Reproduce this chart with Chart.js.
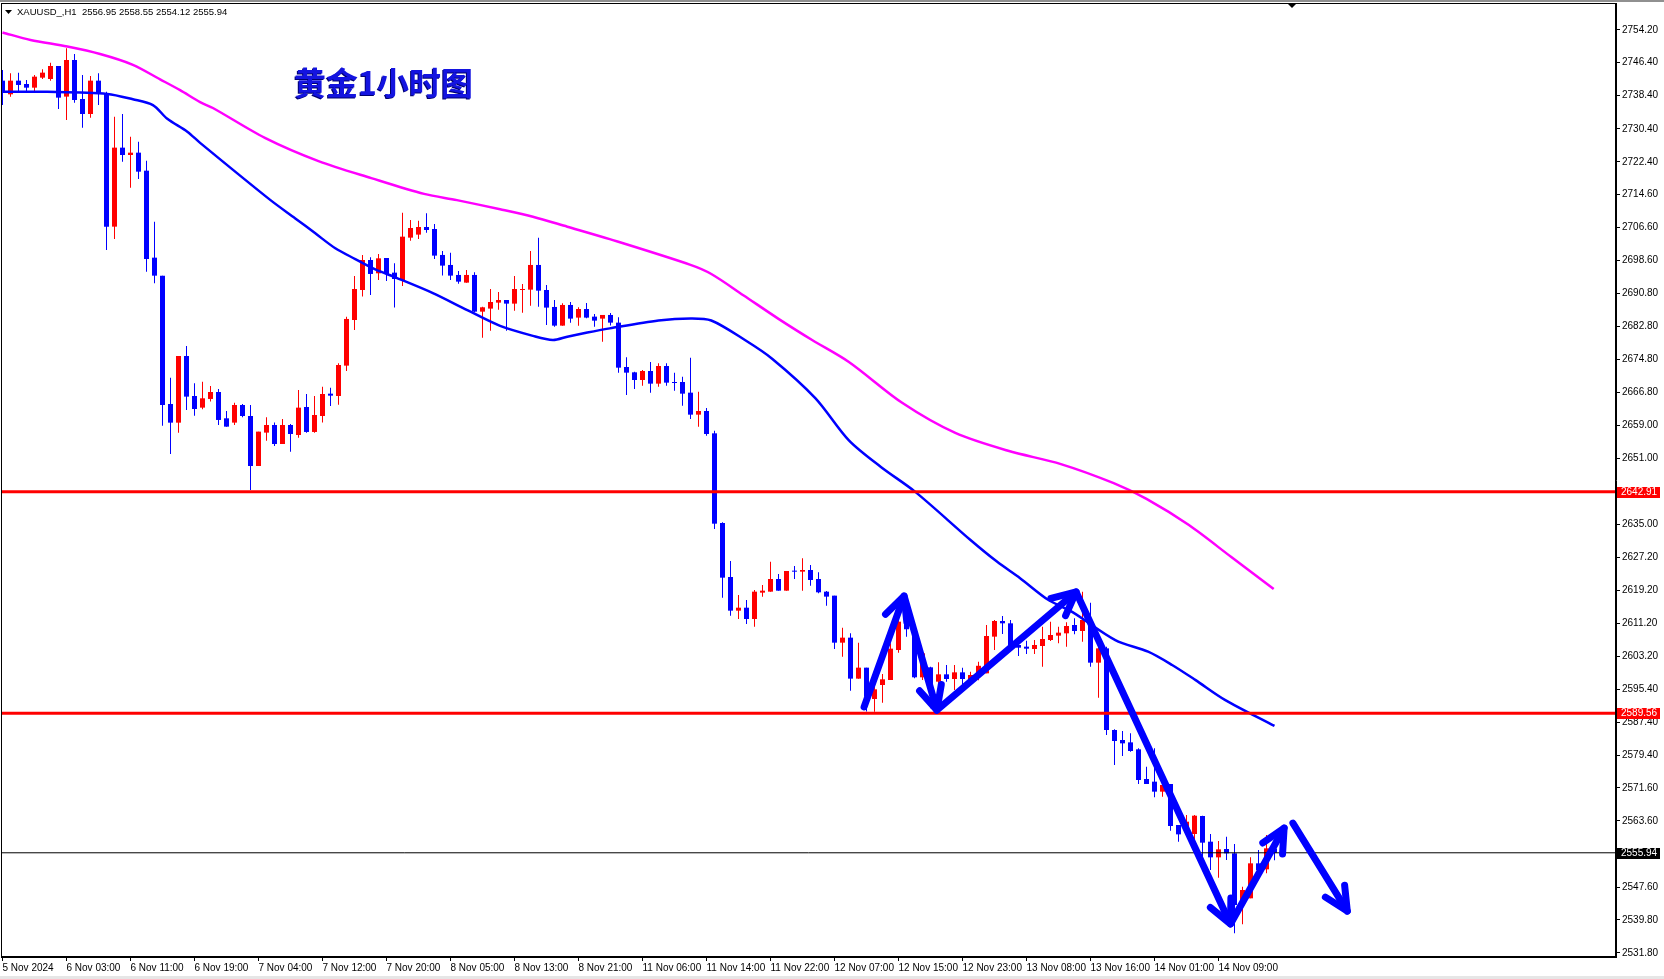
<!DOCTYPE html>
<html>
<head>
<meta charset="utf-8">
<script src="https://cdn.jsdelivr.net/npm/chart.js@4.4.1/dist/chart.umd.min.js"></script>
<style>
  html, body { margin: 0; padding: 0; background: #fff; }
  canvas { display: block; }
</style>
</head>
<body>
<canvas id="chart" width="1664" height="979"></canvas>
<script>
// XAUUSD H1 candles, bar 0 = 5 Nov 19:00
const open = [2741.99,2738.70,2741.99,2741.19,2740.30,2742.71,2742.39,2745.52,2738.14,2746.97,
  2737.57,2733.96,2741.99,2738.94,2706.81,2725.85,2724.08,2724.64,2720.30,2699.34,
  2695.00,2664.08,2659.58,2675.65,2666.01,2663.20,2665.29,2666.97,2660.63,2659.59,
  2663.84,2661.19,2649.14,2657.18,2659.02,2654.44,2659.02,2656.61,2663.36,2657.34,
  2661.19,2666.57,2666.01,2673.32,2684.32,2691.55,2698.78,2695.57,2699.26,2695.73,
  2693.96,2704.16,2704.89,2706.73,2706.25,2699.99,2697.58,2695.17,2693.32,2695.17,
  2686.33,2687.06,2688.50,2689.14,2688.26,2691.55,2691.63,2697.58,2691.55,2687.46,
  2682.96,2687.94,2684.89,2686.97,2685.13,2684.65,2685.53,2683.68,2672.99,2671.71,
  2669.86,2672.03,2668.98,2673.23,2669.38,2669.38,2666.81,2661.51,2662.39,2657.01,
  2635.40,2622.39,2614.28,2615.00,2612.27,2618.62,2618.86,2621.91,2619.10,2623.92,
  2623.68,2624.08,2621.91,2618.86,2617.90,2606.57,2607.78,2597.90,2600.55,2593.00,
  2596.37,2597.58,2604.80,2611.50,2610.02,2598.22,2600.63,2597.17,2598.94,2597.82,
  2599.42,2597.58,2598.50,2599.18,2608.02,2611.79,2611.23,2606.01,2605.61,2605.04,
  2605.77,2607.21,2608.26,2608.82,2610.83,2609.38,2612.03,2601.75,2605.20,2585.53,
  2583.12,2582.55,2580.87,2573.72,2573.08,2570.67,2572.51,2562.63,2561.83,2560.47,
  2564.80,2558.62,2554.84,2556.85,2555.81,2543.36,2544.97,2553.40,2551.95,2556.95];
const high = [2744.56,2743.76,2743.92,2742.15,2743.36,2744.72,2746.33,2745.52,2749.78,2748.42,
  2743.36,2743.12,2743.76,2739.34,2733.32,2733.96,2728.50,2727.29,2722.71,2708.01,
  2695.00,2670.42,2675.65,2678.06,2669.06,2669.46,2668.42,2667.70,2662.40,2664.40,
  2664.08,2663.84,2657.42,2660.87,2659.59,2660.47,2659.26,2667.46,2666.49,2666.01,
  2668.26,2668.02,2673.88,2685.13,2694.93,2699.99,2699.42,2700.23,2699.26,2697.98,
  2710.19,2708.42,2708.26,2710.03,2707.46,2700.95,2700.55,2696.13,2696.37,2695.81,
  2687.54,2691.79,2691.07,2689.14,2694.93,2693.00,2700.95,2704.16,2692.76,2689.14,
  2688.34,2688.66,2687.38,2688.42,2685.77,2685.53,2686.00,2685.00,2675.32,2671.87,
  2672.27,2674.20,2673.88,2673.88,2671.63,2670.66,2675.24,2667.05,2663.11,2657.65,
  2635.56,2626.25,2618.05,2616.85,2619.26,2620.46,2626.09,2623.11,2623.84,2625.04,
  2626.89,2625.28,2623.52,2619.02,2617.90,2610.19,2608.82,2606.57,2600.55,2596.61,
  2599.02,2606.41,2612.43,2613.00,2610.80,2604.16,2600.79,2601.83,2601.19,2601.19,
  2600.55,2599.58,2602.00,2610.83,2612.03,2613.00,2612.03,2607.21,2607.05,2607.21,
  2610.43,2611.63,2610.43,2611.47,2612.43,2618.86,2616.21,2605.61,2605.61,2585.69,
  2585.28,2584.72,2581.11,2576.69,2581.11,2572.67,2572.51,2562.63,2565.04,2565.04,
  2564.88,2560.47,2558.78,2559.83,2558.06,2547.78,2554.85,2556.61,2560.23,2558.55];
const low = [2736.13,2738.14,2739.10,2739.34,2739.34,2742.39,2741.99,2735.16,2732.51,2736.69,
  2730.67,2733.08,2736.13,2701.19,2703.84,2722.47,2716.21,2718.30,2695.97,2693.16,
  2658.86,2652.03,2657.17,2662.63,2661.27,2662.80,2664.65,2659.02,2658.62,2659.02,
  2660.87,2643.36,2649.14,2655.25,2653.96,2654.44,2652.60,2655.97,2657.18,2657.18,
  2659.59,2663.60,2663.92,2672.04,2681.91,2689.95,2690.35,2693.96,2693.72,2687.30,
  2692.52,2703.44,2703.84,2705.37,2699.02,2695.01,2693.96,2693.08,2693.32,2686.17,
  2680.07,2681.75,2686.81,2681.75,2686.57,2686.09,2687.78,2687.54,2683.12,2682.72,
  2682.96,2683.68,2682.96,2684.73,2682.72,2679.10,2683.00,2671.63,2666.25,2667.69,
  2668.50,2666.81,2668.26,2668.50,2667.29,2663.68,2660.46,2658.62,2656.45,2633.96,
  2617.41,2613.07,2612.27,2611.07,2610.42,2617.65,2618.86,2619.10,2619.10,2621.91,
  2619.10,2620.30,2618.46,2615.49,2605.04,2603.20,2595.00,2597.90,2590.00,2589.94,
  2592.11,2597.58,2604.16,2608.00,2598.00,2597.58,2590.75,2595.00,2597.17,2595.17,
  2595.97,2596.77,2597.50,2599.18,2604.80,2608.66,2605.61,2603.36,2603.84,2603.84,
  2600.79,2606.97,2606.41,2605.61,2608.58,2606.81,2600.79,2593.32,2584.32,2577.09,
  2579.26,2580.31,2572.51,2572.51,2569.30,2569.46,2561.27,2558.62,2560.62,2559.02,
  2555.00,2551.79,2549.94,2554.20,2536.53,2538.70,2544.97,2550.99,2550.99,2554.12];
const close = [2739.10,2741.99,2740.95,2740.30,2742.95,2743.92,2745.52,2737.89,2746.97,2737.33,
  2733.96,2741.99,2738.94,2706.81,2725.85,2724.08,2724.64,2720.06,2699.02,2695.00,
  2663.84,2659.58,2675.65,2665.85,2662.87,2665.45,2666.97,2660.23,2658.62,2663.84,
  2661.19,2649.14,2657.42,2659.02,2654.44,2659.02,2656.85,2663.20,2657.34,2661.43,
  2666.49,2666.09,2673.48,2684.57,2691.79,2698.78,2695.41,2699.18,2695.41,2694.20,
  2704.40,2706.49,2706.73,2706.01,2699.83,2697.42,2695.01,2693.56,2695.17,2686.33,
  2687.38,2688.66,2689.14,2688.26,2691.79,2691.79,2697.58,2691.39,2687.30,2682.96,
  2687.94,2684.65,2686.97,2684.89,2684.16,2685.53,2683.68,2672.83,2671.63,2669.86,
  2672.03,2668.98,2673.23,2669.22,2669.14,2666.57,2661.51,2662.39,2656.85,2635.24,
  2622.23,2614.28,2615.00,2612.27,2618.86,2619.10,2621.91,2619.10,2623.84,2623.68,
  2624.08,2621.67,2618.70,2617.66,2606.57,2607.78,2597.90,2600.55,2593.56,2595.33,
  2597.74,2605.13,2611.63,2609.80,2598.22,2604.00,2595.17,2598.94,2597.82,2599.42,
  2597.82,2598.78,2601.00,2608.18,2611.79,2611.23,2606.01,2605.36,2605.12,2606.01,
  2607.45,2608.42,2608.98,2610.59,2609.38,2612.03,2601.75,2605.20,2585.53,2582.87,
  2582.31,2580.47,2573.48,2572.51,2570.67,2572.27,2562.39,2560.38,2563.44,2564.88,
  2558.38,2554.84,2556.77,2555.81,2543.36,2546.97,2553.40,2551.79,2557.01,2555.94];

// moving averages: [bar, price]
const maBlue = [[0,2739.3],[5.6,2739.3],[13.1,2738.8],[16.3,2737.5],[18.8,2736.1],[20.6,2732.8],
  [23.1,2729.7],[24.7,2727.0],[33.5,2713.2],[36.6,2708.8],[39.1,2705.2],[41.6,2701.6],[44.1,2699.0],
  [46.6,2696.5],[49.1,2694.6],[53.8,2690.8],[58.1,2686.7],[62.2,2682.9],[66.3,2680.5],[68.8,2679.5],
  [70.6,2680.3],[73.1,2681.3],[75.9,2682.3],[82.0,2684.2],[86.0,2684.7],[88.6,2684.2],[92.8,2679.5],
  [96.2,2675.0],[101.6,2665.5],[105.8,2655.3],[109.8,2648.9],[114.1,2642.9],[121.0,2631.3],
  [124.3,2626.1],[127.2,2622.1],[130.7,2616.9],[133.7,2614.0],[139.1,2607.2],[143.2,2604.4],
  [146.2,2601.2],[149.1,2597.6],[152.8,2592.8],[159,2586.5]];
const maMagenta = [[0,2753.6],[3.5,2751.8],[8.1,2750.2],[12.2,2748.4],[16.3,2745.8],[19.7,2742.3],
  [22.2,2739.7],[24.7,2736.8],[26.3,2735.4],[32.8,2728.2],[39.5,2722.6],[46.1,2718.5],[52.7,2714.7],
  [56.8,2713.2],[62.2,2711.0],[66.3,2709.2],[70.6,2706.8],[75.9,2703.8],[86,2697.6],[88.6,2695.4],
  [92.6,2690.3],[97.0,2684.6],[101.2,2679.5],[105.8,2674.2],[112.5,2664.3],[119.1,2657.1],[125.7,2652.8],
  [132.3,2649.6],[138.9,2645.0],[143.0,2641.2],[148.3,2634.9],[153.6,2627.2],[158.9,2619.5]];

// horizontal levels
const levelUpper = 2642.91;
const levelLower = 2589.56;
const lastPrice = 2555.94;

// hand drawn arrows: [bar, price]
const arrowZigzag = [[107.7,2591.1],[112.7,2617.8],[116.8,2590.3],[134.2,2618.8],[153.5,2538.8],[160.2,2561.9]];
const arrowDown = [[161.3,2563.1],[168.1,2541.9]];

const xLabels = ['5 Nov 2024','6 Nov 03:00','6 Nov 11:00','6 Nov 19:00','7 Nov 04:00','7 Nov 12:00',
  '7 Nov 20:00','8 Nov 05:00','8 Nov 13:00','8 Nov 21:00','11 Nov 06:00','11 Nov 14:00','11 Nov 22:00',
  '12 Nov 07:00','12 Nov 15:00','12 Nov 23:00','13 Nov 08:00','13 Nov 16:00','14 Nov 01:00','14 Nov 09:00'];
const yTicks = [2754.20,2746.40,2738.40,2730.40,2722.40,2714.60,2706.60,2698.60,2690.80,2682.80,
  2674.80,2666.80,2659.00,2651.00,2635.00,2627.20,2619.20,2611.20,2603.20,2595.40,2587.40,
  2579.40,2571.60,2563.60,2547.60,2539.80,2531.80];

const headerText = 'XAUUSD_,H1  2556.95 2558.55 2554.12 2555.94';
const titleText = '黄金1小时图';

const X_MIN = -0.1875, X_MAX = 201.6875;
const Y_MIN = 2530.83, Y_MAX = 2760.7;
const BULL = '#ff0000', BEAR = '#0000ff';
const FONT = '"Liberation Sans", "DejaVu Sans", sans-serif';

const bars = open.map((o, i) => i);
const colors = bars.map(i => close[i] >= open[i] ? BULL : BEAR);
const pts = arr => arr.map(p => ({x: p[0], y: p[1]}));
const hline = v => [{x: X_MIN, y: v}, {x: X_MAX, y: v}];

const decor = {
  id: 'decor',
  beforeDraw(chart) {
    const ctx = chart.ctx;
    ctx.save();
    ctx.fillStyle = '#fff';
    ctx.fillRect(0, 0, chart.width, chart.height);
    ctx.restore();
  },
  afterDatasetsDraw(chart) {
    // arrow heads at every vertex after the first
    const ctx = chart.ctx;
    [0, 1].forEach(di => {
      const pts = chart.getDatasetMeta(di).data;
      ctx.save();
      ctx.strokeStyle = BEAR;
      ctx.lineWidth = 7;
      ctx.lineCap = 'round';
      ctx.lineJoin = 'round';
      for (let i = 1; i < pts.length; i++) {
        const a = pts[i - 1], b = pts[i];
        const ang = Math.atan2(a.y - b.y, a.x - b.x);
        const len = 26;
        ctx.beginPath();
        ctx.moveTo(b.x + len * Math.cos(ang - 0.45), b.y + len * Math.sin(ang - 0.45));
        ctx.lineTo(b.x, b.y);
        ctx.lineTo(b.x + len * Math.cos(ang + 0.45), b.y + len * Math.sin(ang + 0.45));
        ctx.stroke();
      }
      ctx.restore();
    });
  },
  afterDraw(chart) {
    const ctx = chart.ctx, a = chart.chartArea, y = chart.scales.y;
    ctx.save();
    // frame
    ctx.fillStyle = '#909090';
    ctx.fillRect(0, 0, chart.width, 2);
    ctx.fillStyle = '#e6e6e6';
    ctx.fillRect(0, chart.height - 3, chart.width, 3);
    ctx.strokeStyle = '#000';
    ctx.lineWidth = 1;
    ctx.strokeRect(a.left + 0.5, a.top + 0.5, a.right - a.left - 1, a.bottom - a.top - 1);

    // price tags on the axis
    ctx.font = '10px ' + FONT;
    ctx.textBaseline = 'middle';
    ctx.textAlign = 'left';
    [[levelUpper, BULL], [levelLower, BULL], [lastPrice, '#000']].forEach(([v, c]) => {
      const py = Math.round(y.getPixelForValue(v));
      ctx.fillStyle = c;
      ctx.fillRect(a.right + 1, py - 5, 43, 11);
      ctx.fillStyle = '#fff';
      ctx.fillText(v.toFixed(2), a.right + 5, py + 0.5);
    });

    // header
    ctx.fillStyle = '#000';
    ctx.beginPath();
    ctx.moveTo(5, 10); ctx.lineTo(12, 10); ctx.lineTo(8.5, 14); ctx.closePath();
    ctx.fill();
    ctx.font = '9.5px ' + FONT;
    ctx.fillText(headerText, 17, 12);

    // shift marker
    ctx.beginPath();
    ctx.moveTo(1287, 3); ctx.lineTo(1297, 3); ctx.lineTo(1292, 8); ctx.closePath();
    ctx.fill();

    // title
    ctx.font = 'bold 32px "Noto Sans CJK SC", sans-serif';
    ctx.fillStyle = '#000070';
    ctx.fillText(titleText, 293, 84);
    ctx.fillStyle = '#1414e0';
    ctx.fillText(titleText, 294, 83);
    ctx.restore();
  }
};

new Chart(document.getElementById('chart').getContext('2d'), {
  type: 'bar',
  data: {
    datasets: [
      { type: 'line', data: pts(arrowZigzag), borderColor: BEAR, borderWidth: 7,
        borderCapStyle: 'round', borderJoinStyle: 'round', pointRadius: 0, tension: 0 },
      { type: 'line', data: pts(arrowDown), borderColor: BEAR, borderWidth: 7,
        borderCapStyle: 'round', pointRadius: 0, tension: 0 },
      { type: 'line', data: hline(levelUpper), borderColor: BULL, borderWidth: 3, pointRadius: 0 },
      { type: 'line', data: hline(levelLower), borderColor: BULL, borderWidth: 3, pointRadius: 0 },
      { type: 'line', data: hline(lastPrice), borderColor: '#000', borderWidth: 1, pointRadius: 0 },
      { type: 'line', data: pts(maBlue), borderColor: '#0000ff', borderWidth: 2.5, pointRadius: 0, tension: 0.3 },
      { type: 'line', data: pts(maMagenta), borderColor: '#ff00ff', borderWidth: 2.5, pointRadius: 0, tension: 0.3 },
      { data: bars.map(i => ({x: i, y: [open[i], close[i]]})), backgroundColor: colors,
        barThickness: 5, minBarLength: 1, grouped: false, inflateAmount: 0 },
      { data: bars.map(i => ({x: i, y: [low[i], high[i]]})), backgroundColor: colors,
        barThickness: 1, minBarLength: 1, grouped: false, inflateAmount: 0 }
    ]
  },
  options: {
    responsive: false,
    devicePixelRatio: 1,
    animation: false,
    events: [],
    layout: { padding: { left: 1, top: 3, right: 0, bottom: 0 } },
    plugins: { legend: { display: false }, tooltip: { enabled: false } },
    scales: {
      x: {
        type: 'linear', min: X_MIN, max: X_MAX, offset: false,
        afterFit: s => { s.height = 22; s.paddingLeft = 0; s.paddingRight = 0; },
        afterBuildTicks: s => { s.ticks = xLabels.map((l, i) => ({ value: i * 8 })); },
        grid: { drawOnChartArea: false, offset: false, tickLength: 4, color: '#000' },
        border: { display: true, color: '#000' },
        ticks: { autoSkip: false, maxRotation: 0, align: 'start', padding: 1, color: '#000',
          font: { family: FONT, size: 10 }, callback: v => xLabels[Math.round(v / 8)] }
      },
      y: {
        type: 'linear', position: 'right', min: Y_MIN, max: Y_MAX,
        afterFit: s => { s.width = 48; s.paddingTop = 0; s.paddingBottom = 0; },
        afterBuildTicks: s => { s.ticks = yTicks.map(v => ({ value: v })); },
        grid: { drawOnChartArea: false, tickLength: 4, color: '#000' },
        border: { display: true, color: '#000' },
        ticks: { autoSkip: false, padding: 2, color: '#000',
          font: { family: FONT, size: 10 }, callback: v => v.toFixed(2) }
      }
    }
  },
  plugins: [decor]
});
</script>
</body>
</html>
